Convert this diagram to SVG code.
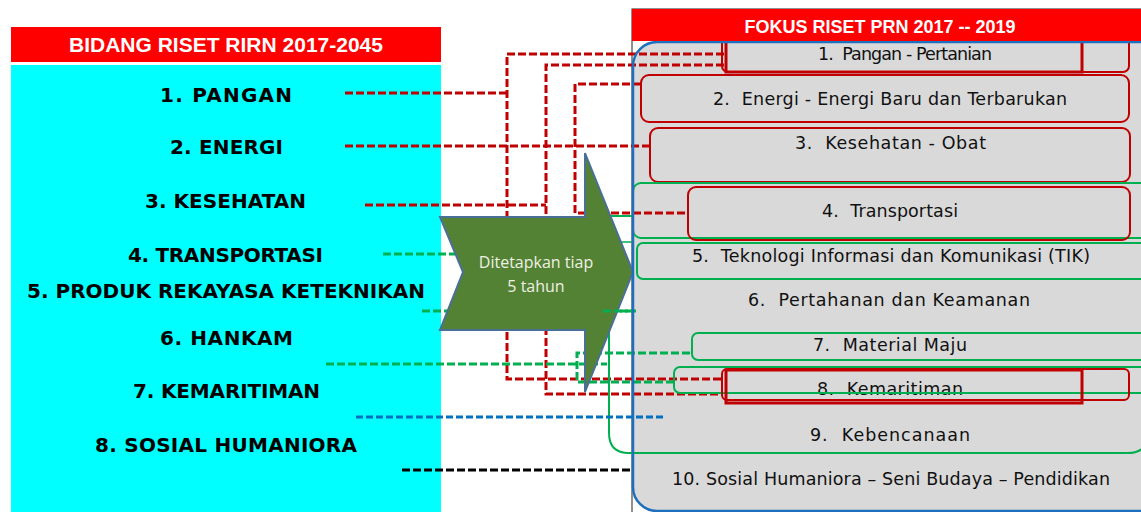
<svg xmlns="http://www.w3.org/2000/svg" width="1141" height="512" viewBox="0 0 1141 512">
<style>
.hdr{font-family:"Liberation Sans",Arial,sans-serif;font-weight:bold;fill:#fff}
.lt{font-family:"DejaVu Sans","Liberation Sans",sans-serif;font-weight:bold;font-size:20px;fill:#000}
.rt{font-family:"DejaVu Sans","Liberation Sans",sans-serif;font-size:17.5px;fill:#111}
.at{font-family:"Open Sans","Liberation Sans",sans-serif;font-size:16px;fill:#eef0e2;text-anchor:middle}
.r{stroke:#c00000;stroke-width:3;stroke-dasharray:8 3;fill:none}
.g{stroke:#00b050;stroke-width:3;stroke-dasharray:8 3;fill:none}
.b{stroke:#0070c0;stroke-width:3;stroke-dasharray:7 3;fill:none}
.k{stroke:#000;stroke-width:3;stroke-dasharray:8 3;fill:none}
.rb{fill:none;stroke:#c00000;stroke-width:2}
.rs{fill:none;stroke:#c00000;stroke-width:3}
.gb{fill:none;stroke:#00b050;stroke-width:2}
</style>

<g id="left-panel">
  <rect x="11" y="27" width="430" height="35" fill="#ff0000"/>
  <text class="hdr" x="226" y="52" font-size="21" text-anchor="middle">BIDANG RISET RIRN 2017-2045</text>
  <rect x="11" y="65" width="430" height="447" fill="#00ffff"/>
</g>
<g id="l1"><text class="lt" x="160" y="102" textLength="132">1. PANGAN</text></g>
<g id="l2"><text class="lt" x="170" y="154" textLength="113">2. ENERGI</text></g>
<g id="l3"><text class="lt" x="145" y="208" textLength="161">3. KESEHATAN</text></g>
<g id="l4"><text class="lt" x="128" y="262" textLength="195">4. TRANSPORTASI</text></g>
<g id="l5"><text class="lt" x="27" y="298" textLength="398">5. PRODUK REKAYASA KETEKNIKAN</text></g>
<g id="l6"><text class="lt" x="160" y="345" textLength="133">6. HANKAM</text></g>
<g id="l7"><text class="lt" x="133" y="398" textLength="187">7. KEMARITIMAN</text></g>
<g id="l8"><text class="lt" x="95" y="452" textLength="262">8. SOSIAL HUMANIORA</text></g>

<g id="right-panel">
  <rect x="632" y="9" width="520" height="510" fill="#fff" stroke="#222" stroke-width="1"/>
  <rect x="633" y="42" width="530" height="469" rx="24" fill="#d9d9d9"/>
</g>

<g id="connectors">
  <path class="r" d="M345,93 H507"/>
  <path class="r" d="M724,54 H507 V379 H722"/>
  <path class="r" d="M345,146 H650"/>
  <path class="r" d="M365,205 H546"/>
  <path class="r" d="M724,65 H546 V394 H722"/>
  <path class="r" d="M641,84 H575 V213 H688"/>
  <path class="g" d="M383,254 H470"/>
  <path class="g" d="M422,311 H636"/>
  <path class="g" d="M326,364 H607"/>
  <path class="g" d="M690,353 H577 V382 H674"/>
  <path fill="none" stroke="#00b050" stroke-width="2" d="M633,216 H609 V433 Q609,453 629,453 H1128 Q1148,453 1148,433"/>
  <path fill="none" stroke="#00b050" stroke-width="1.5" d="M590,242 H633"/>
  <path class="b" d="M356,417 H665"/>
  <path class="k" d="M402,470 H632"/>
</g>

<g id="arrow">
  <polygon points="440,217 585,217 585,153 633,272 585,392 585,330 440,330 463,272" fill="#548235" stroke="#4a6f96" stroke-width="2"/>
  <text class="at" x="536" y="268">Ditetapkan tiap</text>
  <text class="at" x="536" y="292">5 tahun</text>
</g>
<path class="g" d="M603,311 H636"/>

<g id="r1">
  <text class="rt" x="818" y="60" textLength="174" xml:space="preserve">1.  Pangan - Pertanian</text>
  <rect class="rb" x="722" y="36" width="407" height="36" rx="6"/>
  <rect class="rs" x="726" y="36" width="356" height="36"/>
</g>
<g id="r2">
  <text class="rt" x="713" y="105" textLength="354" xml:space="preserve">2.  Energi - Energi Baru dan Terbarukan</text>
  <rect class="rb" x="641" y="75" width="488" height="47" rx="8"/>
</g>
<g id="r3">
  <text class="rt" x="795" y="149" textLength="191" xml:space="preserve">3.  Kesehatan - Obat</text>
  <rect class="rb" x="650" y="128" width="480" height="54" rx="8"/>
</g>
<g id="r4">
  <text class="rt" x="822" y="217" textLength="136" xml:space="preserve">4.  Transportasi</text>
  <rect class="gb" x="633" y="183" width="517" height="55" rx="8"/>
  <rect class="rb" x="688" y="187" width="442" height="53" rx="8"/>
</g>
<g id="r5">
  <text class="rt" x="692" y="262" textLength="398" xml:space="preserve">5.  Teknologi Informasi dan Komunikasi (TIK)</text>
  <rect class="gb" x="637" y="243" width="513" height="36" rx="6"/>
</g>
<g id="r6">
  <text class="rt" x="748" y="306" textLength="282" xml:space="preserve">6.  Pertahanan dan Keamanan</text>
</g>
<g id="r7">
  <text class="rt" x="813" y="351" textLength="154" xml:space="preserve">7.  Material Maju</text>
  <rect class="gb" x="692" y="333" width="458" height="27" rx="6"/>
</g>
<g id="r8">
  <text class="rt" x="817" y="395" textLength="146" xml:space="preserve">8.  Kemaritiman</text>
  <rect class="gb" x="674" y="367" width="476" height="26" rx="6"/>
  <rect class="rb" x="722" y="369" width="407" height="31" rx="5"/>
  <rect class="rs" x="726" y="370" width="356" height="33"/>
</g>
<g id="r9">
  <text class="rt" x="810" y="441" textLength="160" xml:space="preserve">9.  Kebencanaan</text>
</g>
<g id="r10">
  <text class="rt" x="672" y="485" textLength="438">10. Sosial Humaniora – Seni Budaya – Pendidikan</text>
</g>

<g id="right-header">
  <rect x="633" y="42" width="530" height="469" rx="24" fill="none" stroke="#1f6fbf" stroke-width="2.5"/>
  <rect x="632" y="9" width="520" height="32" fill="#ff0000"/>
  <text class="hdr" x="880" y="33" font-size="18" text-anchor="middle">FOKUS RISET PRN 2017 -- 2019</text>
</g>
</svg>
